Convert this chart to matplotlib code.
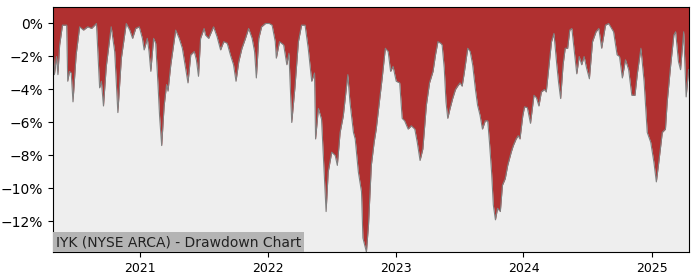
import matplotlib
matplotlib.use("Agg")
import matplotlib.pyplot as plt
import matplotlib.dates as mdates
from matplotlib.ticker import PercentFormatter, MultipleLocator
import pandas as pd

# Данные: даты и просадка (%)
dates = [
    "2020-04-29", "2020-05-03", "2020-05-09", "2020-05-13", "2020-05-18", "2020-05-26",
    "2020-06-07", "2020-06-10", "2020-06-15", "2020-06-20", "2020-06-25", "2020-07-04",
    "2020-07-14", "2020-07-25", "2020-08-06", "2020-08-17", "2020-08-31", "2020-09-09",
    "2020-09-14", "2020-09-20", "2020-09-28", "2020-10-12", "2020-10-22", "2020-10-31",
    "2020-11-10", "2020-11-24", "2020-12-04", "2020-12-12", "2020-12-21", "2020-12-31",
    "2021-01-09", "2021-01-14", "2021-01-23", "2021-01-28", "2021-02-02", "2021-02-10",
    "2021-02-16", "2021-02-23", "2021-02-27", "2021-03-05", "2021-03-12", "2021-03-19",
    "2021-03-23", "2021-03-31", "2021-04-14", "2021-04-24", "2021-05-03", "2021-05-13",
    "2021-05-19", "2021-05-27", "2021-06-06", "2021-06-12", "2021-06-18", "2021-06-24",
    "2021-07-04", "2021-07-08", "2021-07-17", "2021-07-31", "2021-08-10", "2021-08-20",
    "2021-08-29", "2021-09-08", "2021-09-17", "2021-09-26", "2021-10-03", "2021-10-11",
    "2021-10-20", "2021-10-30", "2021-11-08", "2021-11-18", "2021-11-25", "2021-11-30",
    "2021-12-07", "2021-12-15", "2021-12-26",
    "2022-01-06", "2022-01-14", "2022-01-23", "2022-01-26", "2022-02-04", "2022-02-16",
    "2022-02-25", "2022-03-03", "2022-03-11", "2022-03-20", "2022-03-30", "2022-04-08",
    "2022-04-18", "2022-04-27", "2022-05-07", "2022-05-15", "2022-05-18", "2022-05-26",
    "2022-06-04", "2022-06-09", "2022-06-17", "2022-06-23", "2022-07-03", "2022-07-13",
    "2022-07-19", "2022-07-27", "2022-08-05", "2022-08-18", "2022-08-24", "2022-09-03",
    "2022-09-08", "2022-09-17", "2022-09-26", "2022-09-30", "2022-10-10", "2022-10-16",
    "2022-10-24", "2022-11-01", "2022-11-07", "2022-11-17", "2022-11-24", "2022-12-03",
    "2022-12-11", "2022-12-18", "2022-12-25",
    "2023-01-03", "2023-01-13", "2023-01-20", "2023-01-27", "2023-02-06", "2023-02-15",
    "2023-02-25", "2023-03-04", "2023-03-12", "2023-03-20", "2023-03-30", "2023-04-08",
    "2023-04-18", "2023-04-25", "2023-05-02", "2023-05-10", "2023-05-14", "2023-05-20",
    "2023-05-25", "2023-05-30", "2023-06-05", "2023-06-13", "2023-06-21", "2023-06-27",
    "2023-07-04", "2023-07-10", "2023-07-16", "2023-07-26", "2023-08-02", "2023-08-09",
    "2023-08-17", "2023-08-23", "2023-08-30", "2023-09-06", "2023-09-14", "2023-09-21",
    "2023-09-26", "2023-10-02", "2023-10-07", "2023-10-13", "2023-10-19", "2023-10-27",
    "2023-11-02", "2023-11-10", "2023-11-17", "2023-11-27", "2023-12-03", "2023-12-11",
    "2023-12-17", "2023-12-22", "2023-12-30",
    "2024-01-04", "2024-01-12", "2024-01-21", "2024-01-31", "2024-02-07", "2024-02-14",
    "2024-02-21", "2024-03-01", "2024-03-06", "2024-03-14", "2024-03-21", "2024-03-28",
    "2024-04-05", "2024-04-10", "2024-04-16", "2024-04-23", "2024-04-29", "2024-05-06",
    "2024-05-12", "2024-05-18", "2024-05-25", "2024-06-01", "2024-06-08", "2024-06-15",
    "2024-06-22", "2024-06-29", "2024-07-07", "2024-07-16", "2024-07-26", "2024-08-03",
    "2024-08-11", "2024-08-22", "2024-08-31", "2024-09-14", "2024-09-24", "2024-10-01",
    "2024-10-09", "2024-10-18", "2024-10-27", "2024-11-05", "2024-11-14", "2024-11-21",
    "2024-12-01", "2024-12-10", "2024-12-19", "2024-12-29",
    "2025-01-07", "2025-01-14", "2025-01-21", "2025-01-31", "2025-02-09", "2025-02-14",
    "2025-02-24", "2025-03-05", "2025-03-10", "2025-03-18", "2025-03-24", "2025-04-02",
    "2025-04-09", "2025-04-16",
]
drawdown = [
    -1.4, -3.1, -2.0, -3.1, -1.3, -0.1,
    -0.1, -3.5, -2.9, -3.0, -4.75, -1.9,
    -0.2, -0.4, -0.2, -0.3, 0.0, -3.9,
    -3.5, -5.0, -2.6, -0.2, -1.7, -5.4,
    -2.1, 0.0, -0.4, -0.9, -0.3, -0.2,
    -0.9, -1.6, -0.9, -1.7, -2.9, -0.9,
    -1.2, -3.9, -5.6, -7.4, -5.0, -3.7,
    -4.1, -2.5, -0.4, -0.9, -1.5, -2.8,
    -3.6, -1.9, -1.7, -2.2, -3.2, -0.9,
    -0.3, -0.7, -0.9, -0.2, -0.8, -1.6,
    -1.1, -1.2, -1.9, -2.5, -3.5, -2.3,
    -1.5, -0.9, -0.3, -0.9, -1.7, -3.3,
    -0.9, -0.2, 0.0,
    0.0, -0.1, -1.1, -2.1, -1.1, -1.3,
    -2.5, -1.8, -6.0, -3.9, -1.1, -0.1,
    -0.1, -1.5, -3.5, -3.0, -7.0, -5.15,
    -5.8, -8.0, -11.4, -9.0, -7.8, -8.0,
    -8.6, -6.6, -5.6, -3.1, -4.75, -6.6,
    -7.0, -9.0, -10.2, -13.0, -13.85, -12.2,
    -8.6, -7.2, -6.4, -4.55, -3.3, -1.5,
    -1.7, -2.9, -2.6,
    -3.5, -3.6, -5.75, -5.9, -6.4, -6.2,
    -6.4, -7.2, -8.3, -7.6, -4.95, -3.6,
    -2.9, -1.9, -1.1, -1.2, -1.3, -2.7,
    -4.75, -5.75, -5.2, -4.55, -4.0, -3.8,
    -3.6, -3.8, -3.0, -1.5, -1.7, -2.5,
    -4.0, -4.95, -5.55, -6.4, -5.9, -5.9,
    -7.2, -9.0, -11.0, -11.9, -11.2, -11.4,
    -9.8, -9.4, -8.6, -7.8, -7.4, -7.0,
    -6.8, -7.0, -5.6,
    -5.05, -5.1, -6.05, -4.35, -4.5, -5.0,
    -4.15, -4.0, -4.15, -2.5, -1.1, -0.6,
    -2.5, -3.55, -4.55, -2.5, -1.5, -1.5,
    -0.4, -0.3, -1.7, -3.05, -2.0, -2.5,
    -2.0, -2.7, -3.35, -1.1, -0.5, -0.3,
    -1.5, -0.1, 0.0, -0.5, -1.9, -2.0,
    -3.3, -2.2, -2.8, -4.35, -4.35, -3.0,
    -1.5, -3.5, -6.6, -7.2,
    -8.4, -9.6, -8.4, -6.6, -6.4, -4.75,
    -2.5, -0.7, -0.5, -2.3, -2.8, -0.5,
    -4.45, -2.8,
]

x = pd.to_datetime(dates)
y_top = 1.0
y_bottom = min(drawdown)

fig = plt.figure(figsize=(7, 2.8), dpi=100)
ax = fig.add_axes([0.0757, 0.1, 0.908, 0.875])
ax.set_facecolor('#eeeeee')

ax.fill_between(x, drawdown, y_top, color='#b03030', linewidth=0)
ax.plot(x, drawdown, color='grey', linewidth=0.8)

ax.set_xlim(x[0], x[-1])
ax.set_ylim(y_bottom, y_top)
ax.yaxis.set_major_locator(MultipleLocator(2))
ax.yaxis.set_major_formatter(PercentFormatter(xmax=100, decimals=0))
ax.xaxis.set_major_locator(mdates.YearLocator())
ax.xaxis.set_major_formatter(mdates.DateFormatter('%Y'))
ax.tick_params(labelsize=10)
ax.tick_params(axis='x', labelsize=9)

ax.text(0.004, 0.012, "IYK (NYSE ARCA) - Drawdown Chart", transform=ax.transAxes,
        fontsize=10, ha='left', va='bottom', color='#222222',
        bbox=dict(boxstyle='square,pad=0.2', facecolor='#b4b4b4', edgecolor='none'))

fig.savefig('out.png', dpi=100)
